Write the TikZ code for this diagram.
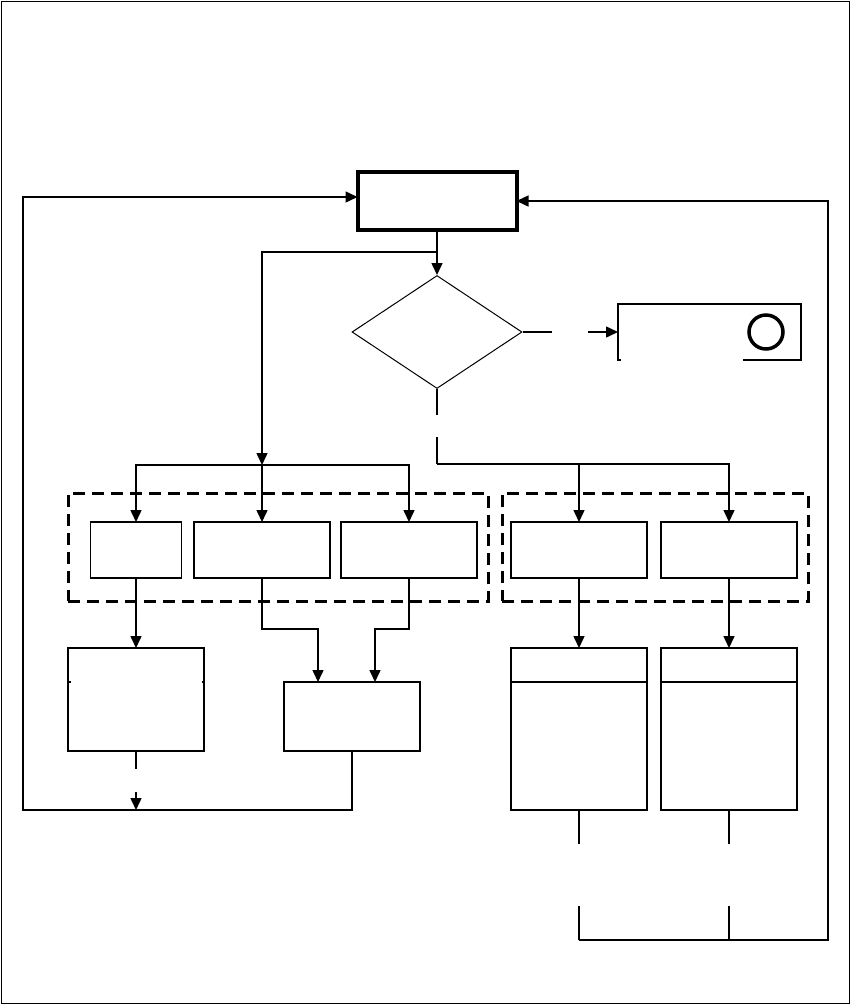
\documentclass[tikz,border=0pt]{standalone}
\usepackage{tikz}
\usetikzlibrary{arrows.meta,positioning,shapes.geometric,calc}

\begin{document}
\begin{tikzpicture}[x=1pt,y=-1pt,line width=1.5pt,
  box/.style={draw,rectangle,inner sep=0pt,outer sep=0pt,minimum width=136pt},
  grp/.style={draw,rectangle,line width=3pt,dash pattern=on 12pt off 7pt,inner sep=0pt,minimum height=108pt},
  arr/.style={-{Triangle[length=12pt,width=11pt]}}]
  \useasboundingbox (0,0) rectangle (852,1005);
  \draw (1.5,1.5) rectangle (849.5,1003.5);
  \node[box,minimum width=159pt,minimum height=58pt,line width=4pt] (start) at (437,201) {};
  \node[draw,diamond,inner sep=0pt,minimum width=170pt,minimum height=113pt,line width=1pt] (dia) at (437,332) {};
  \node[rectangle,inner sep=0pt,outer sep=0pt,minimum width=183pt,minimum height=56pt] (stop) at (709.5,332) {};
  \draw (stop.south west) ++(3,0) -- (stop.south west) -- (stop.north west) -- (stop.north east) -- (stop.south east) -- ++(-58,0);
  \draw[line width=3.5pt] (766,332) circle (17pt);
  \node[grp,minimum width=420pt] (grpL) at (278,547) {};
  \node[grp,minimum width=306pt] (grpR) at (655,547) {};
  \node[box,minimum width=91pt,minimum height=56pt] (A) at (136,550) {};
  \node[box,minimum height=56pt] (B) at (262,550) {};
  \node[box,minimum height=56pt] (C) at (409,550) {};
  \node[box,minimum height=56pt] (D) at (579,550) {};
  \node[box,minimum height=56pt] (E) at (729,550) {};
  \node[box,minimum height=103pt] (F) at (136,699.5) {};
  \node[box,minimum height=69pt] (G) at (352,716.5) {};
  \node[box,minimum height=162pt] (H) at (579,729) {};
  \node[box,minimum height=162pt] (I) at (729,729) {};
  \draw (F.west |- 0,682) -- ++(2.5,0) (F.east |- 0,682) -- ++(-2.5,0);
  \draw (H.west |- 0,682) -- (H.east |- 0,682);
  \draw (I.west |- 0,682) -- (I.east |- 0,682);
  \coordinate (split) at (437,252);
  \coordinate (jl) at (262,465);
  \coordinate (jr) at (437,464);
  \coordinate (g1) at (437,415);
  \coordinate (g2) at (437,437);
  \coordinate (g3) at (552,332);
  \coordinate (g4) at (588,332);
  \coordinate (g5) at (136,769);
  \coordinate (g6) at (136,792);
  \coordinate (jb) at (136,810);
  \coordinate (lp) at (23,810);
  \coordinate (hb) at (579,940);
  \coordinate (rc) at (828,940);
  \draw[arr] (start.south) -- (dia.north);
  \draw[arr] (split) -| (jl);
  \draw[arr] (jl) -| (A.north);
  \draw[arr] (jl) -- (B.north);
  \draw[arr] (jl) -| (C.north);
  \draw (dia.south) -- (g1);
  \draw (g2) -- (jr);
  \draw[arr] (jr) -| (D.north);
  \draw[arr] (jr) -| (E.north);
  \draw (dia.east) -- (g3);
  \draw[arr] (g4) -- (stop.west);
  \draw[arr] (A.south) -- (F.north);
  \draw[arr] (B.south) -- ++(0,51) -| ([xshift=-34pt]G.north);
  \draw[arr] (C.south) -- ++(0,51) -| ([xshift=23pt]G.north);
  \draw[arr] (D.south) -- (H.north);
  \draw[arr] (E.south) -- (I.north);
  \draw (F.south) -- (g5);
  \draw[arr] (g6) -- (jb);
  \draw[arr] (G.south) |- (lp) |- ([yshift=4pt]start.west);
  \draw (H.south) -- ++(0,34) (I.south) -- ++(0,34);
  \draw (579,906) -- (hb) (729,906) -- (729,940);
  \draw[arr] (hb) -- (rc) |- (start.east);
\end{tikzpicture}
\end{document}
